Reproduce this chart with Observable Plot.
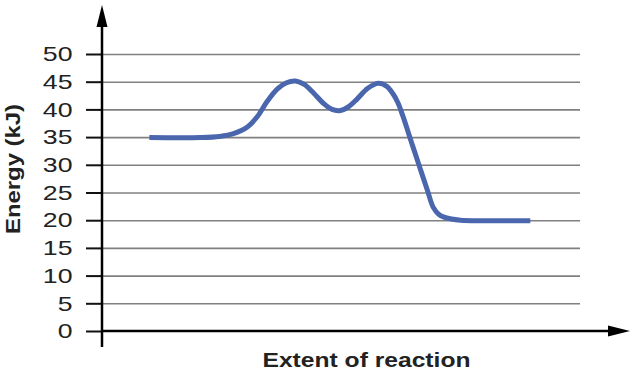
<!DOCTYPE html>
<html>
<head>
<meta charset="utf-8">
<script src="https://cdn.jsdelivr.net/npm/d3@7"></script>
<script src="https://cdn.jsdelivr.net/npm/@observablehq/plot@0.6"></script>
<style>
  html, body { margin: 0; padding: 0; background: #fff; }
  #chart svg { display: block; }
  #chart [aria-label^="y-axis"] line,
  #chart [aria-label="y-axis tick"] path { stroke: #111; stroke-width: 2; }
</style>
</head>
<body>
<div id="chart"></div>
<script>
// Reaction progress (arbitrary 0–100 units) and energy in kJ
const extent = [9.8, 20.5, 24.5, 27.4, 30.3, 32.4, 34.5, 36.6, 38.5, 40.4, 42.2, 44.1, 46.2, 48.0, 49.8, 51.5, 53.3, 55.5, 57.7, 59.4, 60.7, 61.8, 62.8, 64.85, 66.5, 68.0, 69.2, 70.3, 71.3, 73.0, 74.9, 79.1, 89.5];
const energy = [35, 35, 35.2, 35.7, 36.9, 38.8, 41.6, 43.8, 44.9, 45.2, 44.6, 43.1, 41.2, 40.1, 39.9, 40.6, 42.0, 43.9, 44.8, 44.3, 43.0, 41.3, 39.0, 33.6, 29.3, 25.4, 22.4, 21.2, 20.7, 20.3, 20.1, 20, 20];
const yTicks = [0, 5, 10, 15, 20, 25, 30, 35, 40, 45, 50];
const xLabel = "Extent of reaction";
const yLabel = "Energy (kJ)";

const curve = extent.map((x, i) => ({x, y: energy[i]}));
const font = "'Liberation Sans', Arial, Helvetica, sans-serif";

const plot = Plot.plot({
  width: 632,
  height: 373,
  marginLeft: 102,
  marginRight: 52,
  marginTop: 54,
  marginBottom: 42,
  style: {fontFamily: font, fontSize: "21px", color: "#222", background: "#fff"},
  x: {domain: [0, 100], axis: null},
  y: {domain: [0, 50], ticks: yTicks, tickSize: 16, tickPadding: 14, label: null},
  marks: [
    Plot.ruleY(yTicks.filter(d => d > 0), {stroke: "#808080", strokeWidth: 1.6}),
    Plot.line(curve, {x: "x", y: "y", curve: "catmull-rom", stroke: "#4a66ad", strokeWidth: 5, strokeLinecap: "butt"}),
    Plot.text([xLabel], {frameAnchor: "bottom", dx: 25, dy: 29, textAnchor: "middle", lineAnchor: "middle", fontWeight: "bold", fontSize: 20.5, fill: "#222"}),
    Plot.text([yLabel], {frameAnchor: "left", dx: -89, dy: -24, rotate: -90, textAnchor: "middle", lineAnchor: "middle", fontWeight: "bold", fontSize: 20.5, fill: "#222"})
  ]
});

// Axis lines with arrowheads, positioned from the scales
const sx = plot.scale("x"), sy = plot.scale("y");
const x0 = sx.apply(0), y0 = sy.apply(0);
const svg = d3.select(plot);
const g = svg.append("g").attr("aria-label", "axis arrows");
g.append("line").attr("x1", x0).attr("x2", x0).attr("y1", y0 + 16).attr("y2", 24)
  .attr("stroke", "#000").attr("stroke-width", 2.5);
g.append("path").attr("d", `M${x0},5L${x0 - 5.5},27L${x0 + 5.5},27Z`).attr("fill", "#000");
g.append("line").attr("x1", x0).attr("x2", 611).attr("y1", y0).attr("y2", y0)
  .attr("stroke", "#000").attr("stroke-width", 2.5);
g.append("path").attr("d", `M630,${y0}L608,${y0 - 5.5}L608,${y0 + 5.5}Z`).attr("fill", "#000");

document.getElementById("chart").appendChild(plot);

// The reference lettering is wider than Liberation Sans: stretch glyphs horizontally
function stretch(sel, factor) {
  sel.each(function () {
    const w = this.getComputedTextLength();
    if (w > 0) {
      this.setAttribute("textLength", (w * factor).toFixed(1));
      this.setAttribute("lengthAdjust", "spacingAndGlyphs");
    }
  });
}
stretch(svg.selectAll('[aria-label^="y-axis"] text'), 1.27);
svg.selectAll("text").each(function () {
  const t = this.textContent;
  if (t === xLabel) { this.setAttribute("textLength", 208); this.setAttribute("lengthAdjust", "spacingAndGlyphs"); }
  if (t === yLabel) { this.setAttribute("textLength", 130); this.setAttribute("lengthAdjust", "spacingAndGlyphs"); }
});
</script>
</body>
</html>
